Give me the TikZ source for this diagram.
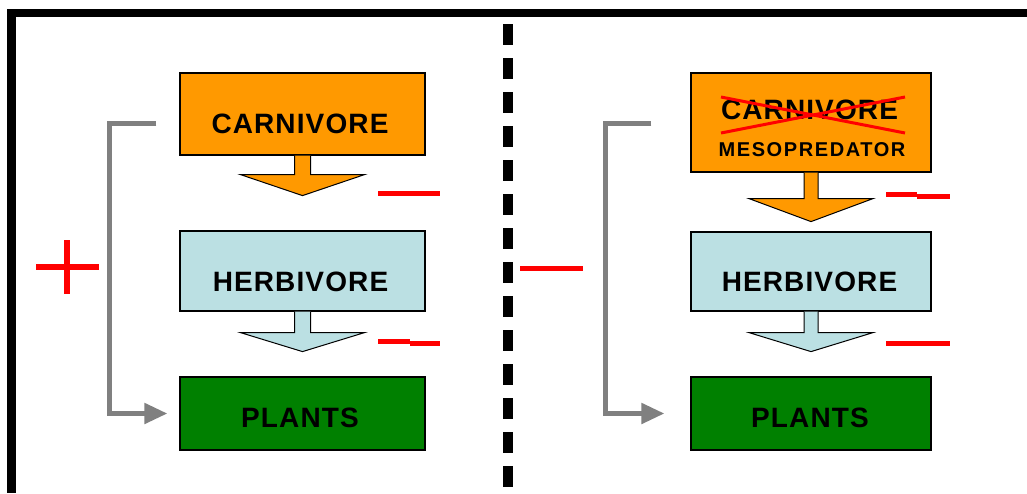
\documentclass[tikz,border=0pt]{standalone}
\usepackage{fontspec}
\setmainfont{Liberation Sans}
\newfontfamily\boxfont[LetterSpace=4]{Liberation Sans}
\newfontfamily\smallboxfont[LetterSpace=8]{Liberation Sans}
\usetikzlibrary{arrows.meta,calc}
\definecolor{orng}{RGB}{255,153,0}
\definecolor{lblue}{RGB}{187,224,227}
\definecolor{dgreen}{RGB}{0,128,0}
\definecolor{gry}{RGB}{128,128,128}
\definecolor{rd}{RGB}{255,0,0}
\newcommand{\blockarrow}[5]{% node, fill, stem len, head len, stem half width
  \filldraw[fill=#2,draw=black,line width=1pt]
    ([xshift=-#5pt]#1.south) -- ++(0,#3) -- ++(-62+#5,0) -- ++(62,#4)
    -- ++(62,-#4) -- ++(-62+#5,0) -- ([xshift=#5pt]#1.south);
}
\begin{document}
\begin{tikzpicture}[x=1pt,y=-1pt,
  box/.style={draw=black,line width=1.2pt,inner sep=0pt},
  lbl/.style={anchor=base,inner sep=0pt,font=\boxfont\bfseries\fontsize{28}{30}\selectfont},
  slbl/.style={anchor=base,inner sep=0pt,font=\smallboxfont\bfseries\fontsize{20}{22}\selectfont},
  conn/.style={draw=gry,line width=5pt,-{Triangle[length=23pt,width=20pt]}},
  redmark/.style={draw=rd,line width=5pt},
  cross/.style={draw=rd,line width=3pt}]
\useasboundingbox (0,0) rectangle (1027,493);
\clip (0,0) rectangle (1027,493);
\fill[white] (0,0) rectangle (1027,493);
% frame
\fill[black] (7,9) rectangle (16,493);
\fill[black] (7,9) rectangle (1027,17);
% divider
\draw[line width=10pt,dash pattern=on 21pt off 13pt] (508,24) -- (508,500);

% ---------- left panel ----------
\node[box,fill=orng,minimum width=245pt,minimum height=82pt] (cl) at (302.5,114) {};
\node[box,fill=lblue,minimum width=245pt,minimum height=80pt] (hl) at (302.5,271) {};
\node[box,fill=dgreen,minimum width=245pt,minimum height=73pt] (pl) at (302.5,413.5) {};
\blockarrow{cl}{orng}{19}{21}{8}
\blockarrow{hl}{lblue}{21}{19}{8}
\node[lbl] (tcl) at (300,133) {CARNIVORE};
\node[lbl] (thl) at (300.5,291) {HERBIVORE};
\node[lbl] (tpl) at (300,427) {PLANTS};
\draw[conn] ([xshift=-23pt,yshift=-9pt]cl.west) -- ++(-47,0) |- ([xshift=-12pt]pl.west);
\draw[redmark,line width=6pt] (36,267) -- (99,267);
\draw[redmark,line width=6pt] (67,240) -- (67,294);
\draw[redmark] (378,193) -- (440,193);
\draw[redmark] (378,341) -- (410,341);
\draw[redmark] (410,343) -- (440,343);

% ---------- right panel ----------
\node[box,fill=orng,minimum width=240pt,minimum height=99pt] (cr) at (811,122.5) {};
\node[box,fill=lblue,minimum width=240pt,minimum height=79pt] (hr) at (811,271.5) {};
\node[box,fill=dgreen,minimum width=240pt,minimum height=73pt] (pr) at (811,413.5) {};
\blockarrow{cr}{orng}{26}{23}{7}
\blockarrow{hr}{lblue}{21}{19}{7}
\node[lbl] (tcr) at (809.5,119) {CARNIVORE};
\node[slbl] (tmr) at (812,156) {MESOPREDATOR};
\node[lbl] (thr) at (809.5,291) {HERBIVORE};
\node[lbl] (tpr) at (810,427) {PLANTS};
\draw[cross] (721,97) -- (905,133);
\draw[cross] (721,133) -- (905,97);
\draw[conn] ([xshift=-39pt,yshift=-0.5pt]cr.west) -- ++(-46,0) |- ([xshift=-26pt]pr.west);
\draw[redmark] (520,268) -- (583,268);
\draw[redmark] (886,194) -- (917,194);
\draw[redmark] (917,196) -- (950,196);
\draw[redmark] (886,343) -- (950,343);
\end{tikzpicture}
\end{document}
